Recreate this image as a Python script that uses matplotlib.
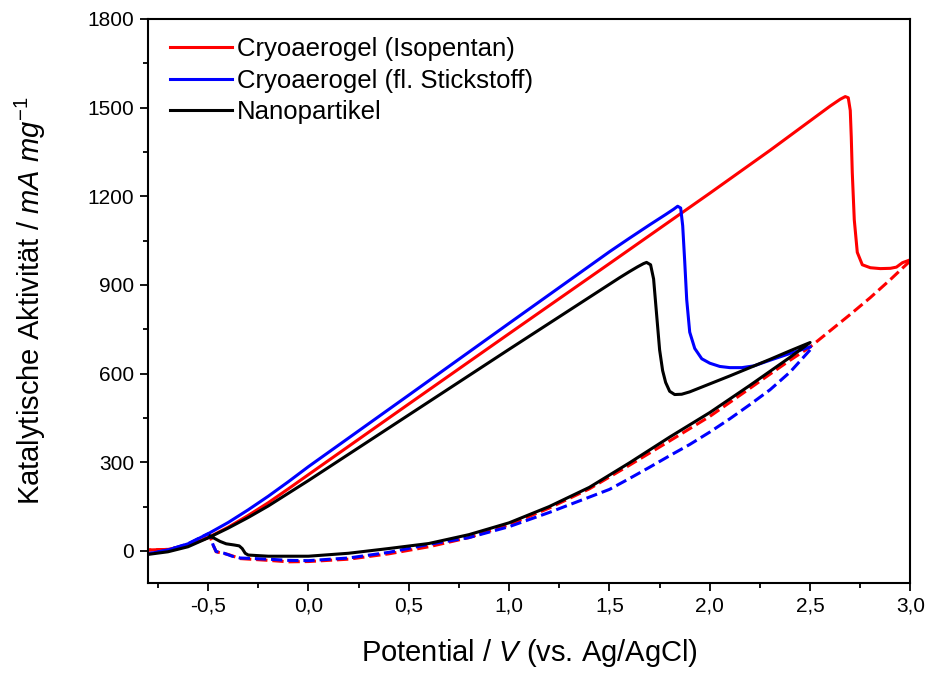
import matplotlib
matplotlib.use("Agg")
import matplotlib.pyplot as plt
from matplotlib.ticker import MultipleLocator, FuncFormatter

plt.rcParams['font.family'] = ['Liberation Sans', 'DejaVu Sans']
plt.rcParams['mathtext.fontset'] = 'custom'
plt.rcParams['mathtext.rm'] = 'Liberation Sans'
plt.rcParams['mathtext.it'] = 'Liberation Sans:italic'

# --- Cryoaerogel (Isopentan): forward scan (solid) ---
iso_fwd_v = [-0.8, -0.7, -0.6, -0.5, -0.4, -0.3, -0.2, -0.1, 0.0, 0.5, 1.0, 1.5, 2.0,
             2.3, 2.5, 2.6, 2.65, 2.675, 2.69, 2.70, 2.705, 2.71, 2.72, 2.735, 2.76,
             2.8, 2.85, 2.9, 2.93, 2.96, 3.0]
iso_fwd_i = [3, 5, 18, 45, 80, 120, 163, 210, 258, 497, 735, 972, 1210,
             1355, 1455, 1505, 1528, 1537, 1533, 1490, 1400, 1280, 1120, 1010, 968,
             958, 955, 956, 960, 975, 985]
# reverse scan (dashed)
iso_rev_v = [3.0, 2.9, 2.8, 2.7, 2.6, 2.5, 2.4, 2.3, 2.2, 2.0, 1.8, 1.6, 1.4, 1.2, 1.0,
             0.8, 0.6, 0.4, 0.2, 0.0, -0.1, -0.2, -0.34, -0.4, -0.46, -0.475, -0.49,
             -0.5, -0.6, -0.7, -0.8]
iso_rev_i = [982, 918, 857, 800, 745, 690, 645, 598, 550, 455, 372, 290, 210, 145, 88,
             45, 14, -10, -28, -36, -37, -32, -26, -12, -3, 20, 48,
             45, 18, 5, 3]

# --- Cryoaerogel (fl. Stickstoff) ---
n2_fwd_v = [-0.8, -0.7, -0.6, -0.5, -0.4, -0.3, -0.2, -0.1, 0.0, 0.5, 1.0, 1.5, 1.6,
            1.7, 1.78, 1.82, 1.84, 1.855, 1.865, 1.875, 1.885, 1.9, 1.925, 1.96, 2.0,
            2.05, 2.1, 2.16, 2.22, 2.3, 2.4, 2.5]
n2_fwd_i = [-10, 3, 24, 58, 96, 139, 185, 234, 285, 527, 770, 1012, 1058,
            1103, 1138, 1156, 1166, 1160, 1100, 980, 850, 740, 685, 650, 635,
            624, 620, 620, 626, 645, 668, 690]
n2_rev_v = [2.5, 2.4, 2.3, 2.2, 2.1, 2.0, 1.9, 1.8, 1.7, 1.6, 1.5, 1.4, 1.2, 1.0, 0.8,
            0.6, 0.4, 0.2, 0.0, -0.1, -0.2, -0.34, -0.38, -0.42, -0.46, -0.475, -0.49,
            -0.5, -0.6, -0.7, -0.8]
n2_rev_i = [680, 605, 545, 495, 447, 402, 360, 322, 283, 245, 208, 182, 130, 82, 45,
            22, -5, -24, -33, -32, -28, -24, -18, -8, -2, 20, 50,
            58, 24, 3, -10]

# --- Nanopartikel (full loop, solid) ---
nano_v = [-0.8, -0.7, -0.6, -0.5, -0.4, -0.3, -0.2, -0.1, 0.0, 0.5, 1.0, 1.5, 1.55,
          1.6, 1.64, 1.67, 1.685, 1.705, 1.72, 1.735, 1.75, 1.765, 1.78, 1.8, 1.825,
          1.86, 1.9, 2.0, 2.1, 2.2, 2.3, 2.4, 2.5,
          2.4, 2.2, 2.0, 1.8, 1.6, 1.4, 1.2, 1.0, 0.8, 0.6, 0.4, 0.2, 0.0, -0.2, -0.3,
          -0.315, -0.33, -0.345, -0.37, -0.41, -0.44, -0.47, -0.49]
nano_i = [-12, -3, 14, 44, 77, 113, 152, 195, 238, 460, 682, 902, 924,
          945, 961, 972, 976, 968, 920, 800, 680, 610, 570, 540, 529,
          530, 538, 565, 592, 620, 648, 677, 705,
          655, 560, 468, 385, 298, 215, 150, 95, 55, 25, 8, -8, -18, -18, -14,
          -8, 8, 17, 20, 24, 32, 43, 50]

red = '#ff0000'
blue = '#0000ff'
lw = 2.2

fig = plt.figure(figsize=(9.3, 6.73), dpi=100)
ax = fig.add_axes([0.159, 0.134, 0.820, 0.838])

ax.plot(iso_fwd_v, iso_fwd_i, color=red, lw=lw, label="Cryoaerogel (Isopentan)")
ax.plot(iso_rev_v, iso_rev_i, color=red, lw=lw, ls='--')
ax.plot(n2_fwd_v, n2_fwd_i, color=blue, lw=lw, label="Cryoaerogel (fl. Stickstoff)")
ax.plot(n2_rev_v, n2_rev_i, color=blue, lw=lw, ls='--')
ax.plot(nano_v, nano_i, color='black', lw=lw, label="Nanopartikel")

ax.set_xlim(-0.8, 3.0)
ax.set_ylim(-108, 1800)

ax.xaxis.set_major_locator(MultipleLocator(0.5))
ax.xaxis.set_minor_locator(MultipleLocator(0.25))
ax.yaxis.set_major_locator(MultipleLocator(300))
ax.yaxis.set_minor_locator(MultipleLocator(150))
ax.xaxis.set_major_formatter(FuncFormatter(lambda v, p: f"{v:.1f}".replace('.', ',').replace('-0,0', '0,0')))
ax.yaxis.set_major_formatter(FuncFormatter(lambda v, p: f"{v:.0f}"))

ax.tick_params(which='major', direction='out', length=6, width=1.3, labelsize=15, pad=4)
ax.tick_params(which='minor', direction='out', length=3.5, width=1.3)
for s in ax.spines.values():
    s.set_linewidth(1.5)

ax.set_xlabel("Potential / $\\mathit{V}$ (vs. Ag/AgCl)", fontsize=21, labelpad=15)
ax.set_ylabel("Katalytische Aktivität / $\\mathit{mA\\ mg}^{\\mathit{-1}}$", fontsize=21, labelpad=28)

ax.legend(loc='upper left', bbox_to_anchor=(0.006, 1.0), frameon=False, fontsize=18.5,
          handlelength=2.4, handletextpad=0.2, labelspacing=0.3, borderaxespad=0.3)

fig.savefig("out.png", dpi=100)
